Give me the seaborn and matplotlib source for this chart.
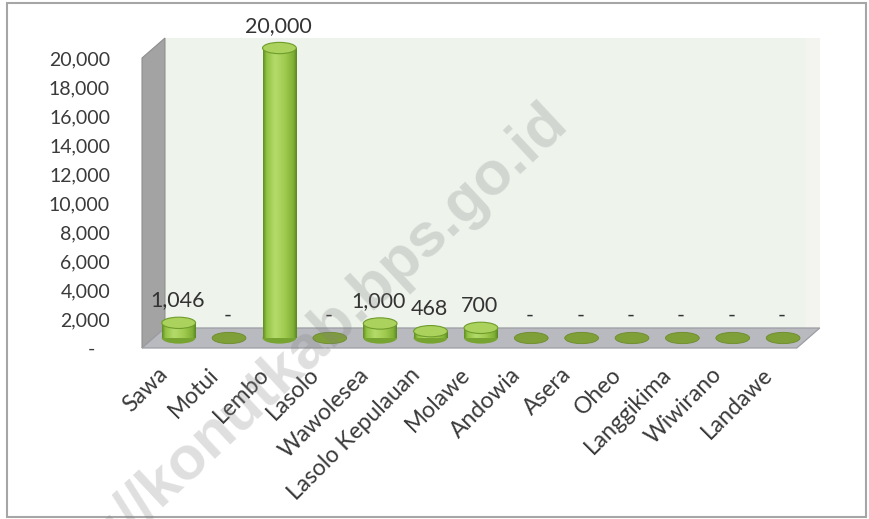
import numpy as np
import pandas as pd
import matplotlib
matplotlib.use("Agg")
import matplotlib.pyplot as plt
import seaborn as sns
from matplotlib.patches import Polygon, Ellipse, Rectangle
from matplotlib.transforms import Affine2D, ScaledTranslation
from matplotlib.colors import LinearSegmentedColormap

# Production per district (0 is shown as "-")
districts = ["Sawa", "Motui", "Lembo", "Lasolo", "Wawolesea", "Lasolo Kepulauan",
             "Molawe", "Andowia", "Asera", "Oheo", "Langgikima", "Wiwirano", "Landawe"]
production = [1046, 0, 20000, 0, 1000, 468, 700, 0, 0, 0, 0, 0, 0]
y_ticks = list(range(0, 20001, 2000))
y_tick_labels = ["-   "] + [f"{v:,}" for v in y_ticks[1:]]
watermark = "https://konutkab.bps.go.id"

sns.set_theme(style="white")
plt.rcParams["font.family"] = ["Lato", "DejaVu Sans"]

W, H = 870, 519
fig = plt.figure(figsize=(W / 100, H / 100), dpi=100, facecolor="white")
ax = fig.add_axes([142 / W, 171 / H, 680 / W, 311 / H])
ax.patch.set_visible(False)

n = len(districts)
DX, DY = 0.456, 1380          # depth of the 3-D box (category units, value units)
x0, x1 = -0.5, n - 0.5
top = 20000
EH = 780                       # height of the cylinder end ellipses (value units)

df = pd.DataFrame({"district": districts, "value": production})
sns.barplot(data=df, x="district", y="value", ax=ax, width=0.67,
            color="#8DBB3F", linewidth=0, zorder=3)

# --- 3-D box: back wall, left side wall, floor
back = Polygon([(x0 + DX, DY), (x1 + DX, DY), (x1 + DX, top + DY), (x0 + DX, top + DY)],
               closed=True, fc="#EEF3EC", ec="none", zorder=0.5, clip_on=False)
strip = Polygon([(x1 + DX - 0.27, DY), (x1 + DX, DY), (x1 + DX, top + DY), (x1 + DX - 0.27, top + DY)],
                closed=True, fc="#F3F4EF", ec="none", zorder=0.55, clip_on=False)
side = Polygon([(x0, 0), (x0 + DX, DY), (x0 + DX, top + DY), (x0, top)],
               closed=True, fc="#A3A3A3", ec="#8E8E8E", lw=0.8, zorder=0.6, clip_on=False)
floor = Polygon([(x0, 0), (x1, 0), (x1 + DX, DY), (x0 + DX, DY)],
                closed=True, fc="#B8BABF", ec="#9C9EA3", lw=0.9, zorder=0.7, clip_on=False)
for p in (back, strip, side, floor):
    ax.add_patch(p)

# --- cylinders sit in the middle of the floor depth
shift = Affine2D().translate(DX / 2, DY / 2) + ax.transData
cyl = LinearSegmentedColormap.from_list(
    "cyl", [(0, "#628F22"), (0.1, "#92C344"), (0.35, "#B4DB6B"),
            (0.65, "#A0CB4F"), (0.9, "#80B036"), (1, "#5C8822")])
grad = np.linspace(0, 1, 64).reshape(1, -1)

bars = list(ax.containers[0])
for p, v in zip(bars, production):
    p.set_transform(shift)
    w = p.get_width()
    xl = p.get_x()
    xc = xl + w / 2
    if v > 0:
        ax.add_patch(Ellipse((xc, 0), w, EH, fc="#77A431", ec="none",
                             transform=shift, zorder=2.5))
        im = ax.imshow(grad, cmap=cyl, extent=[xl, xl + w, 0, v], aspect="auto",
                       interpolation="bilinear", zorder=3.1)
        im.set_transform(shift)
        im.set_clip_path(p)
        ax.add_patch(Ellipse((xc, v), w, EH, fc="#AAD25C", ec="#6F9C2C", lw=0.8,
                             transform=shift, zorder=3.5))
    else:
        ax.add_patch(Ellipse((xc, 0), w, EH, fc="#7F9F38", ec="#6C8B2C", lw=0.6,
                             transform=shift, zorder=3.5))

# --- value labels
for i, v in enumerate(production):
    lbl = f"{v:,}" if v else "-"
    ax.annotate(lbl, xy=(i + DX / 2, v + DY / 2 + EH / 2), xytext=(-1, 12),
                textcoords="offset points", ha="center", va="center",
                fontsize=15.5, color="#333333", zorder=6)

# --- axes
ax.set_yticks(y_ticks, y_tick_labels)
ax.set_xticks(range(n), districts)
ax.tick_params(axis="y", length=0, pad=23, labelsize=14, labelcolor="#3A3A3A")
ax.tick_params(axis="x", length=0, pad=20, labelsize=16.5, labelcolor="#3A3A3A")
offset = ScaledTranslation(2 / 100, 0, fig.dpi_scale_trans)
for lab in ax.get_xticklabels():
    lab.set_rotation(45)
    lab.set_ha("right")
    lab.set_va("baseline")
    lab.set_rotation_mode("anchor")
    lab.set_transform(lab.get_transform() + offset)
ax.set_xlabel("")
ax.set_ylabel("")
for s in ax.spines.values():
    s.set_visible(False)
ax.grid(False)
ax.set_xlim(-0.5, 13.0)
ax.set_ylim(0, 21450)

# --- chart border
fig.add_artist(Rectangle((7 / W, 2 / H), 859 / W, 514 / H, transform=fig.transFigure,
                         fill=False, ec="#A6A6A6", lw=1.5))

# --- watermark
fig.text(570 / W, (H - 125) / H, watermark, rotation=43, rotation_mode="anchor",
         ha="right", va="baseline", fontsize=44, fontweight="bold",
         family=["Liberation Sans", "DejaVu Sans"], color="#808080", alpha=0.25, zorder=20)

fig.savefig("out.png", dpi=100, facecolor="white")
